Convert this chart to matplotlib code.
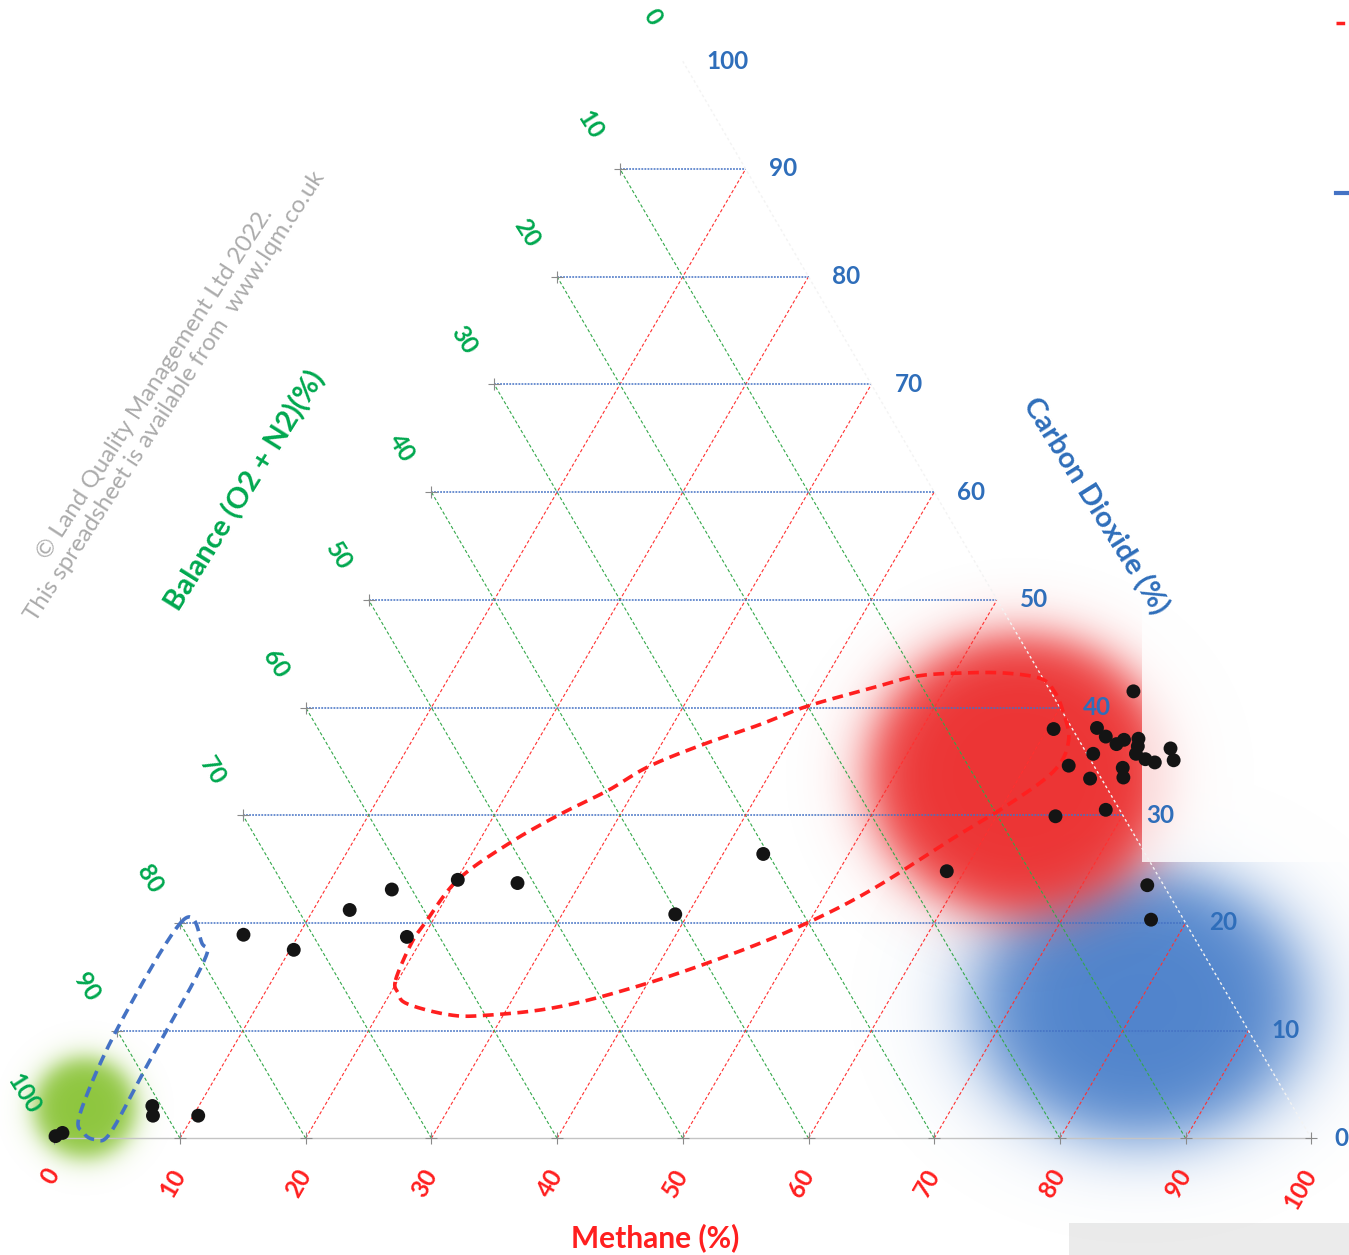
import numpy as np
import matplotlib
matplotlib.use("Agg")
import matplotlib.pyplot as plt
from matplotlib.patches import Rectangle
from matplotlib.lines import Line2D

# ---------------------------------------------------------------- data
# Gas composition of each monitoring reading (percent by volume)
methane_pct = [0.0, 0.4, 6.3, 6.8, 10.4, 5.6, 10.3, 12.9, 15.3, 18.7,
               20.1, 25.0, 39.0, 43.2, 58.6, 64.7, 60.5, 65.1, 63.9, 65.0,
               66.2, 66.6, 67.7, 68.0, 68.2, 69.2, 70.1, 70.7, 71.5, 64.8,
               63.4, 67.8, 68.3, 65.7, 68.4, 75.2, 77.1]
co2_pct = [0.2, 0.5, 3.0, 2.1, 2.1, 18.9, 17.5, 21.2, 23.1, 18.7,
           24.0, 23.7, 20.8, 26.4, 24.8, 29.9, 38.0, 41.5, 38.1, 37.3,
           36.6, 37.0, 37.1, 36.4, 35.7, 35.2, 34.9, 36.2, 35.1, 35.7,
           34.6, 34.4, 33.5, 33.4, 30.5, 23.5, 20.3]

# Outline of the mixing zone (red dashed loop), methane / CO2 pairs
zone_methane = [19.8, 19.35, 19.5, 20.1, 22.5, 25.1, 27.9, 30.0, 33.2, 36.9,
                39.8, 44.1, 47.1, 50.5, 54.0, 57.1, 58.7, 60.3, 62.2, 62.5,
                60.5, 57.7, 53.5, 49.9, 45.7, 40.0, 34.0, 28.4, 25.5, 21.8,
                20.6]
zone_co2 = [14.7, 18.1, 20.0, 24.0, 27.4, 30.0, 32.3, 34.5, 36.5, 38.4,
            40.1, 41.8, 42.9, 43.2, 43.2, 42.7, 41.6, 39.8, 37.0, 34.2,
            31.1, 28.0, 23.1, 20.0, 17.3, 14.4, 12.2, 11.4, 11.5, 12.5,
            13.5]

# Outline of the low-methane band (blue dashed loop)
band_methane = [0.1, -0.07, 0.9, 2.1, 3.3, 4.2, 4.0, 3.7, 2.7]
band_co2 = [20.2, 10.1, 2.3, 0.5, -0.1, 0.5, 6.7, 16.3, 18.1]

# Shaded gas-type regions: centre (methane, CO2)
atmos_centre = (1.0, 2.8)
landfill_centre = (60.0, 33.7)
methanogenic_centre = (80.2, 12.4)

ticks = [0, 10, 20, 30, 40, 50, 60, 70, 80, 90, 100]

# ---------------------------------------------------------------- layout
W, H, DPI = 1349, 1255, 100
X0, SX = 54.3, 12.57      # pixel position of origin / pixels per % along base
Y0, SY = 1138.3, 10.77    # pixel position of base / pixels per % of CO2

XLIM = (-X0 / SX, (W - X0) / SX)
YLIM = (-(H - Y0) / SY, Y0 / SY)

RED = "#FF1F1F"
GREEN = "#00A84F"
BLUE = "#2F6EBA"
GRID_BLUE = "#4472C4"
GRID_RED = "#FF3030"
GRID_GREEN = "#33A84A"

plt.rcParams["font.family"] = ["Lato", "DejaVu Sans"]


def tern(m, c):
    """Methane/CO2 percentages to cartesian plot coordinates."""
    m = np.asarray(m, float)
    c = np.asarray(c, float)
    return m + c / 2.0, c


def closed_spline(x, y, n=24):
    """Closed Catmull-Rom curve through the given vertices."""
    P = np.column_stack([x, y])
    N = len(P)
    t = np.linspace(0, 1, n, endpoint=False)[:, None]
    segs = []
    for i in range(N):
        p0, p1, p2, p3 = P[(i - 1) % N], P[i], P[(i + 1) % N], P[(i + 2) % N]
        segs.append(0.5 * (2 * p1 + (-p0 + p2) * t
                           + (2 * p0 - 5 * p1 + 4 * p2 - p3) * t ** 2
                           + (-p0 + 3 * p1 - 3 * p2 + p3) * t ** 3))
    segs.append(P[:1])
    S = np.vstack(segs)
    return S[:, 0], S[:, 1]


fig = plt.figure(figsize=(W / DPI, H / DPI), dpi=DPI)
fig.patch.set_facecolor("white")
ax = fig.add_axes([0, 0, 1, 1])
ax.axis("off")

# ---------------------------------------------------------------- soft regions
gx = np.linspace(XLIM[0], XLIM[1], W)
gy = np.linspace(YLIM[0], YLIM[1], H)
GX, GY = np.meshgrid(gx, gy)


def soft_region(centre, rx, ry, k, rgb, z):
    xc, yc = tern(*centre)
    d = np.hypot((GX - xc) / rx, (GY - yc) / ry)
    alpha = 1.0 / (1.0 + np.exp((d - 1.0) / k))
    img = np.zeros((H, W, 4))
    img[..., :3] = np.array(rgb) / 255.0
    img[..., 3] = alpha
    ax.imshow(img, extent=(XLIM[0], XLIM[1], YLIM[0], YLIM[1]), origin="lower",
              aspect="auto", interpolation="bilinear", zorder=z)


soft_region(methanogenic_centre, 13.0, 12.5, 0.14, (80, 132, 204), 1.0)
soft_region(landfill_centre, 12.0, 13.0, 0.10, (236, 52, 52), 1.1)
soft_region(atmos_centre, 4.0, 4.6, 0.14, (142, 198, 62), 1.2)

# pale panel over the right-hand side
px_to_x = lambda px: (px - X0) / SX
px_to_y = lambda py: (Y0 - py) / SY
ax.add_patch(Rectangle((px_to_x(1142), px_to_y(862)), XLIM[1] - px_to_x(1142),
                       YLIM[1] - px_to_y(862), facecolor="white", alpha=0.8,
                       edgecolor="none", zorder=1.5))

# ---------------------------------------------------------------- grid
for v in ticks[1:-1]:
    # constant CO2
    x, y = tern([0, 100 - v], [v, v])
    ax.plot(x, y, color=GRID_BLUE, lw=1.1, ls=(0, (1.2, 0.8)), zorder=2)
    # constant methane
    x, y = tern([v, v], [0, 100 - v])
    ax.plot(x, y, color=GRID_RED, lw=0.8, ls=(0, (3, 2)), zorder=2)
    # constant balance
    x, y = tern([100 - v, 0], [0, 100 - v])
    ax.plot(x, y, color=GRID_GREEN, lw=0.8, ls=(0, (3, 2)), zorder=2)

x, y = tern([0, 100], [0, 0])
ax.plot(x, y, color="#c4c4c4", lw=1.0, zorder=2)
x, y = tern([100, 0], [0, 100])
ax.plot(x, y, color="#f3f3f3", lw=1.0, ls=(0, (2, 2)), zorder=2)

# tick crosses
x, y = tern(ticks, [0] * len(ticks))
ax.plot(x, y, ls="none", marker="+", ms=9, mew=0.8, color="#8a8a8a", zorder=2.1)
x, y = tern([0] * 9, ticks[1:-1])
ax.plot(x, y, ls="none", marker="+", ms=9, mew=0.8, color="#8a8a8a", zorder=2.1)

# ---------------------------------------------------------------- outlines
zx, zy = closed_spline(*tern(zone_methane, zone_co2))
ax.plot(zx, zy, color=RED, lw=2.6, ls=(0, (3.0, 1.8)), zorder=3)
bx, by = closed_spline(*tern(band_methane, band_co2))
ax.plot(bx, by, color=GRID_BLUE, lw=2.6, ls=(0, (3.0, 1.8)), zorder=3)

# ---------------------------------------------------------------- readings
px, py = tern(methane_pct, co2_pct)
ax.scatter(px, py, s=100, color="#141414", edgecolors="none", zorder=6)

# ---------------------------------------------------------------- tick labels
TICK_FS = 17.5
for v in ticks:
    x, y = tern(v, 0)
    ax.text(x, y - 3.0, str(v), color=RED, fontsize=TICK_FS, fontweight="bold",
            rotation=60, rotation_mode="anchor", ha="right", va="center",
            zorder=7)
    x, y = tern(100 - v, v)
    ax.text(x + 1.85, y, str(v), color=BLUE, fontsize=TICK_FS,
            fontweight="bold", ha="left", va="center", zorder=7)
    x, y = tern(0, 100 - v)
    ax.text(x - 2.39, y + 4.09, str(v), color=GREEN, fontsize=TICK_FS,
            fontweight="bold", rotation=-58, ha="center", va="center",
            zorder=7)

# ---------------------------------------------------------------- titles
ax.text(47.8, -9.2, "Methane (%)", color=RED, fontsize=21.5, fontweight="bold",
        ha="center", va="center", zorder=7)
ax.text(82.8, 58.7, "Carbon Dioxide (%)", color=BLUE, fontsize=21,
        fontweight="bold", rotation=-58, ha="center", va="center", zorder=7)
ax.text(15.2, 60.1, "Balance (O2 + N2)(%)", color=GREEN, fontsize=21,
        fontweight="bold", rotation=58, ha="center", va="center", zorder=7)

ax.text(8.8, 69.5, "\u00a9 Land Quality Management Ltd 2022.\n"
        "This spreadsheet is available from  www.lqm.co.uk",
        color="#ababab", fontsize=17.3, rotation=57, ha="center", va="center",
        multialignment="center", linespacing=1.15, zorder=7)

ax.set_xlim(*XLIM)
ax.set_ylim(*YLIM)

# legend keys running off the right-hand edge, and a grey footer panel
fig.add_artist(Line2D([1336 / W, 1.0], [1 - 22.7 / H] * 2, color=RED, lw=2.5,
                      ls=(0, (2.5, 1.5)), transform=fig.transFigure))
fig.add_artist(Line2D([1336 / W, 1.0], [1 - 192.7 / H] * 2, color=GRID_BLUE,
                      lw=3.0, transform=fig.transFigure))
fig.add_artist(Rectangle((1069 / W, 0), 1 - 1069 / W, (H - 1223) / H,
                         facecolor="#ebebeb", edgecolor="none",
                         transform=fig.transFigure, zorder=0))

fig.savefig("out.png", dpi=DPI, facecolor="white")
